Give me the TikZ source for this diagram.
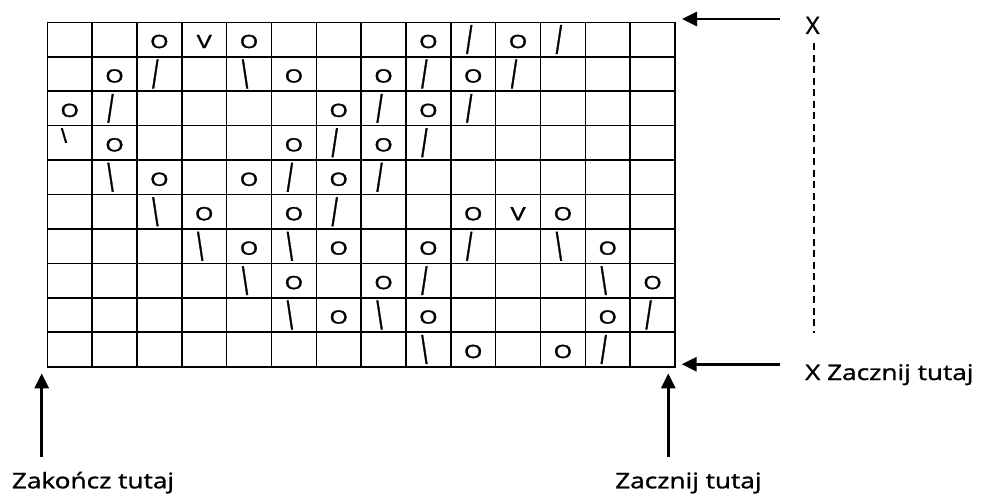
\documentclass[tikz,border=0pt]{standalone}
\usepackage{fontspec}
\usepackage{graphicx}
\setmainfont{Open Sans}[FakeBold=1.2]
\newfontfamily\gridfont{Liberation Sans}[FakeBold=1.5]
\usetikzlibrary{arrows.meta}
\newcommand{\hwide}[1]{\scalebox{1.2}[1]{#1}}
\newcommand{\tallsym}[1]{\scalebox{1.15}[2.05]{#1}}
\newcommand{\symo}{\hwide{O}}
\newcommand{\symv}{\hwide{V}}
\newcommand{\syms}{\tallsym{/}}
\newcommand{\symb}{\tallsym{\textbackslash}}
\tikzset{
  gridline/.style={line width=1.6pt, black},
  gsymbase/.style={inner sep=0pt, font=\gridfont\fontsize{19}{21}\selectfont},
  gsymo/.style={gsymbase, yshift=-2pt},
  gsymv/.style={gsymbase, yshift=-2pt},
  gsyms/.style={gsymbase, xshift=-4pt},
  gsymb/.style={gsymbase, xshift=-4pt},
  lbltext/.style={inner sep=0pt, font=\fontsize{21.5}{24}\selectfont},
  bigarrow/.style={line width=2.8pt, -{Triangle[length=15pt,width=14pt]}},
  dashline/.style={line width=1.5pt, dash pattern=on 7pt off 4.5pt},
}
\begin{document}
\begin{tikzpicture}[x=1pt,y=-1pt]
\useasboundingbox (0,0) rectangle (983,498);
% grid
\coordinate (gnw) at (47.3,22.3);
\coordinate (gse) at (675,366.7);
\foreach \i in {1,...,13} {
  \draw[gridline] ({47.3+\i*44.8357},22.3) -- ({47.3+\i*44.8357},366.7);
}
\foreach \j in {1,...,9} {
  \draw[gridline] (47.3,{22.3+\j*34.44}) -- (675,{22.3+\j*34.44});
}
\draw[gridline] (gnw) rectangle (gse);
% symbols
\foreach \r/\c/\t in {
  1/3/o,1/4/v,1/5/o,1/9/o,1/10/s,1/11/o,1/12/s,
  2/2/o,2/3/s,2/5/b,2/6/o,2/8/o,2/9/s,2/10/o,2/11/s,
  3/1/o,3/2/s,3/7/o,3/8/s,3/9/o,3/10/s,
  4/2/o,4/6/o,4/7/s,4/8/o,4/9/s,
  5/2/b,5/3/o,5/5/o,5/6/s,5/7/o,5/8/s,
  6/3/b,6/4/o,6/6/o,6/7/s,6/10/o,6/11/v,6/12/o,
  7/4/b,7/5/o,7/6/b,7/7/o,7/9/o,7/10/s,7/12/b,7/13/o,
  8/5/b,8/6/o,8/8/o,8/9/s,8/13/b,8/14/o,
  9/6/b,9/7/o,9/8/b,9/9/o,9/13/o,9/14/s,
  10/9/b,10/10/o,10/12/o,10/13/s} {
  \node[gsym\t] (c\r-\c) at ({47.3+(\c-0.5)*44.8357},{22.3+(\r-0.5)*34.44}) {\csname sym\t\endcsname};
}
\node[gsymbase] (c4-1) at (64,135.5) {\scalebox{1.15}[1.05]{\textbackslash}};
% labels
\node[inner sep=0pt, font=\fontsize{24}{26}\selectfont] (topx) at (812.7,25.4) {X};
\node[lbltext, anchor=base west] (startx) at (805,380) {\scalebox{1.22}[1]{X Zacznij tutaj}};
\node[lbltext, anchor=base west] (endlbl) at (11.7,488.3) {\scalebox{1.22}[1]{Zakończ tutaj}};
\node[lbltext, anchor=base west] (startlbl) at (615,488.3) {\scalebox{1.22}[1]{Zacznij tutaj}};
% arrows
\coordinate (a1s) at (780,19);
\coordinate (a1e) at (682,19);
\coordinate (a2s) at (780,364.3);
\coordinate (a2e) at (681.7,364.3);
\coordinate (a3s) at (668.3,456.7);
\coordinate (a3e) at (668.3,373.3);
\coordinate (a4s) at (41.7,456.7);
\coordinate (a4e) at (41.7,373.3);
\draw[bigarrow] (a1s) -- (a1e);
\draw[bigarrow] (a2s) -- (a2e);
\draw[bigarrow] (a3s) -- (a3e);
\draw[bigarrow] (a4s) -- (a4e);
% dashed line
\coordinate (d1) at (814,43);
\coordinate (d2) at (814,333);
\draw[dashline] (d1) -- (d2);
\end{tikzpicture}
\end{document}
